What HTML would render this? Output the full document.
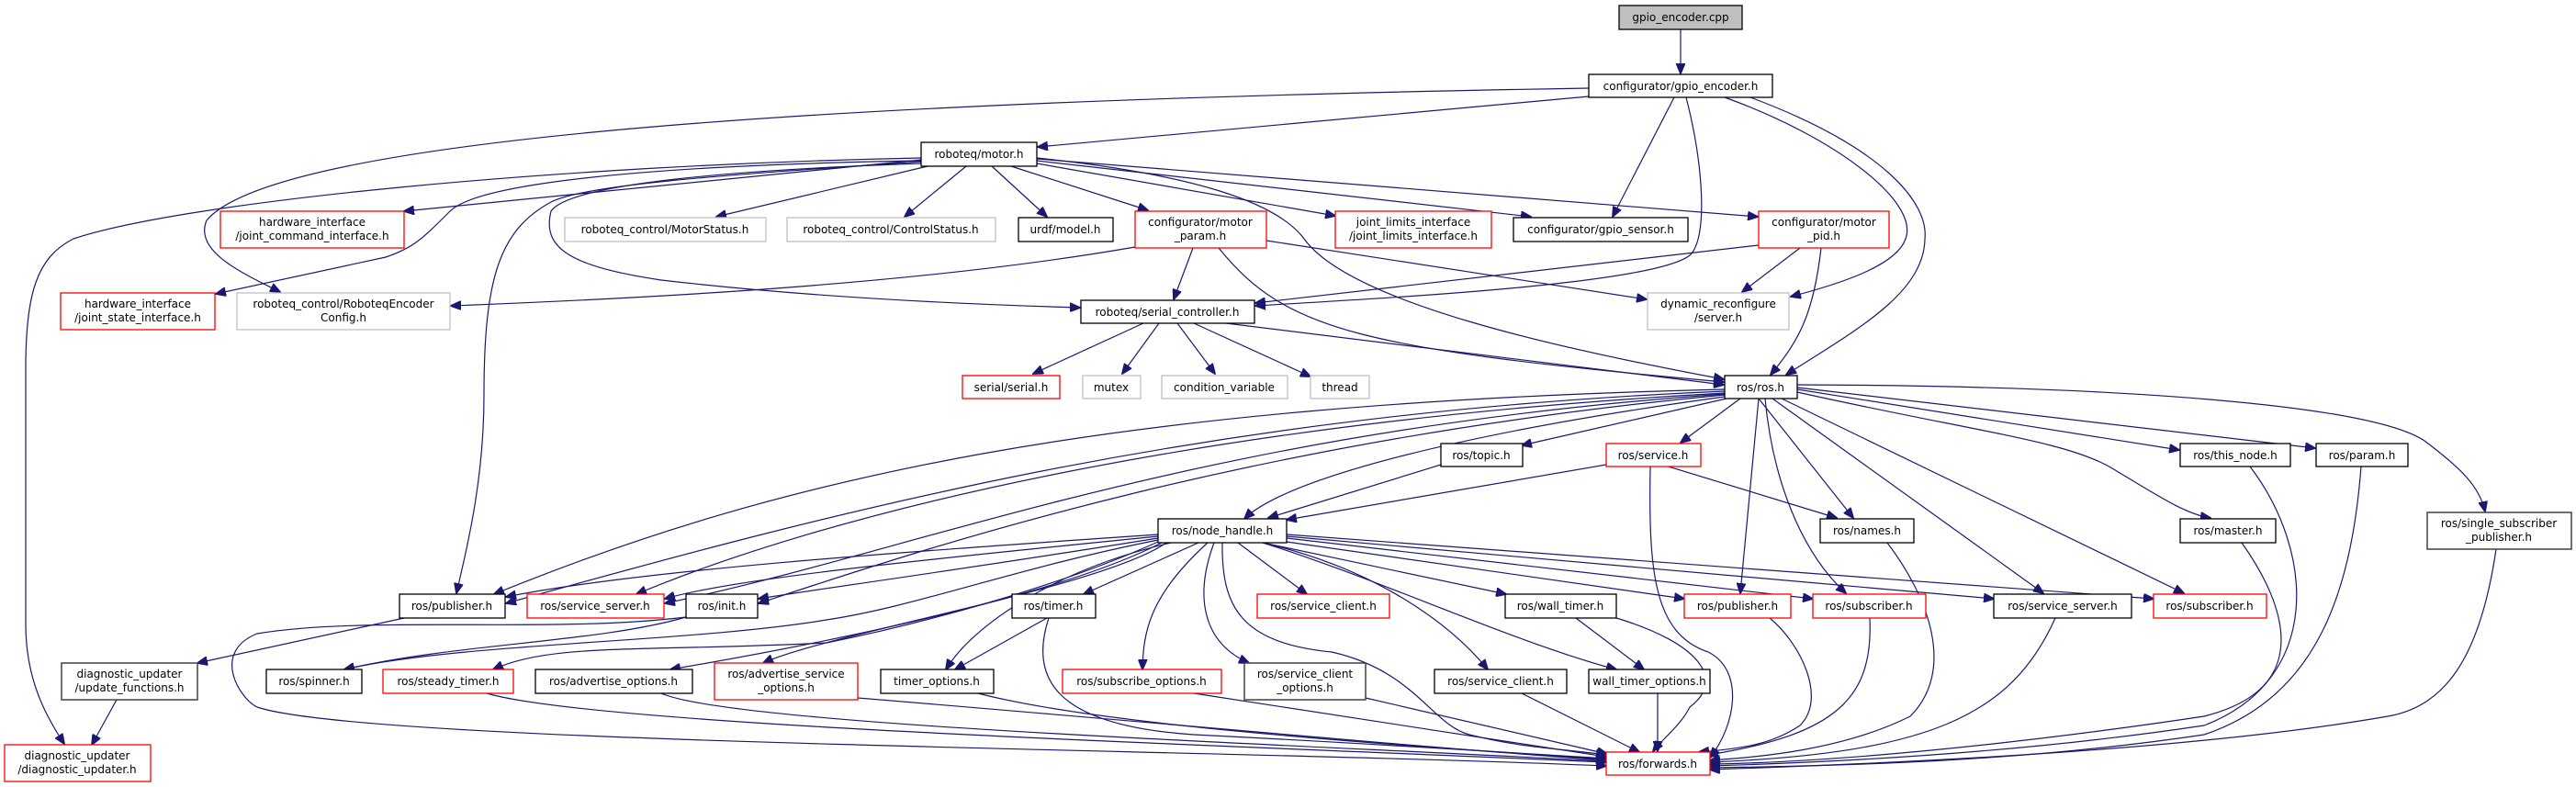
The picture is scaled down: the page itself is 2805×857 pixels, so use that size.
<!DOCTYPE html>
<html><head><meta charset="utf-8"><style>
html,body{margin:0;padding:0;background:#fff;}
svg{display:block;}
text{font-family:"DejaVu Sans","Liberation Sans",sans-serif;font-size:12px;fill:#000;text-anchor:middle;}
.b{fill:#fff;stroke:#000;stroke-width:1.3}
.g{fill:#fff;stroke:#bfbfbf;stroke-width:1.3}
.r{fill:#fff;stroke:#ff0000;stroke-width:1.3}
.d{fill:#fff;stroke:#404040;stroke-width:1.5}
.e path{fill:none;stroke:#191970;stroke-width:1.2;marker-end:url(#a)}
</style></head><body>
<svg width="2805" height="857" viewBox="0 0 2805 857" xmlns="http://www.w3.org/2000/svg">
<defs><marker id="a" markerUnits="userSpaceOnUse" markerWidth="12" markerHeight="10" refX="11" refY="5" orient="auto"><path d="M0,0 L12,5 L0,10 z" fill="#191970" stroke="#191970"/></marker></defs>
<g class="e">
<path d="M1830,32 L1830,80"/>
<path d="M1730,96 C 900,110 300,150 225,240 C 210,275 270,300 305,318"/>
<path d="M1730,105 L1130,160"/>
<path d="M1823,106 L1756,236"/>
<path d="M1878,106 C 2000,150 2090,220 2075,260 C 2065,290 2000,310 1950,323"/>
<path d="M1836,106 C 1855,180 1860,260 1840,278 C 1800,310 1500,325 1367,333"/>
<path d="M1906,106 C 2050,160 2100,220 2096,260 C 2095,320 2020,360 1945,408"/>
<path d="M1003,172 C 600,180 200,220 80,260 C 40,280 28,320 28,400 L 28,680 C 28,740 50,780 70,810"/>
<path d="M1003,176 C 800,190 640,200 600,220 C 545,250 527,300 527,430 C 527,520 510,590 497,646"/>
<path d="M1003,174 L440,230"/>
<path d="M1003,175 C 700,180 520,200 490,230 C 460,260 450,270 420,280 L 235,320"/>
<path d="M1003,178 C 800,185 620,200 600,230 C 590,270 620,290 720,305 C 850,320 1000,330 1176,335"/>
<path d="M1010,181 L780,236"/>
<path d="M1052,181 L985,236"/>
<path d="M1080,181 L1140,236"/>
<path d="M1101,181 L1250,229"/>
<path d="M1129,178 L1454,235"/>
<path d="M1129,175 L1667,236"/>
<path d="M1129,173 L1914,236"/>
<path d="M1129,172 C 1300,190 1390,220 1420,260 C 1470,330 1700,380 1877,413"/>
<path d="M1236,269 C 1000,310 700,325 491,333"/>
<path d="M1299,270 L1278,326"/>
<path d="M1379,262 L1793,326"/>
<path d="M1327,270 C 1400,360 1480,380 1877,416"/>
<path d="M1915,267 L1367,330"/>
<path d="M1960,270 L1897,318"/>
<path d="M1983,270 C 1975,340 1960,370 1928,408"/>
<path d="M1245,352 L1125,407"/>
<path d="M1262,352 L1222,407"/>
<path d="M1282,352 L1323,407"/>
<path d="M1300,352 L1427,410"/>
<path d="M1335,352 L1877,419"/>
<path d="M1878,424 C 1200,440 850,520 538,647"/>
<path d="M1878,426 C 1300,450 900,560 551,657"/>
<path d="M1878,428 C 1300,460 900,560 693,647"/>
<path d="M1878,429 C 1300,470 1000,600 724,657"/>
<path d="M1878,430 C 1350,480 1000,600 826,657"/>
<path d="M1878,432 C 1600,470 1400,520 1355,565"/>
<path d="M1880,434 L1657,485"/>
<path d="M1895,434 L1830,482"/>
<path d="M1957,424 L2373,490"/>
<path d="M1957,422 L2521,488"/>
<path d="M1957,419 C 2300,420 2580,440 2640,480 C 2680,510 2700,530 2706,557"/>
<path d="M1957,427 C 2150,470 2250,480 2300,510 C 2350,540 2380,560 2407,564"/>
<path d="M1915,434 L2018,564"/>
<path d="M1915,434 L1895,646"/>
<path d="M1922,434 C 1930,520 1960,600 2010,646"/>
<path d="M1930,434 L2225,646"/>
<path d="M1940,434 L2378,646"/>
<path d="M1810,506 L2000,564"/>
<path d="M1797,508 C 1795,620 1800,690 1860,710 C 1900,730 1890,790 1862,825"/>
<path d="M1569,506 L1381,564"/>
<path d="M1749,506 L1401,566"/>
<path d="M1261,582 C 1000,600 700,620 551,650"/>
<path d="M1261,584 C 1000,610 800,630 724,652"/>
<path d="M1261,586 C 1050,620 900,640 826,652"/>
<path d="M1261,588 C 1100,620 1000,660 900,675 C 750,700 500,700 375,729"/>
<path d="M1261,590 C 1150,640 1000,680 900,700 C 700,710 600,700 537,729"/>
<path d="M1265,591 C 1150,650 900,700 730,729"/>
<path d="M1270,591 C 1200,640 900,690 831,722"/>
<path d="M1275,591 C 1150,620 1060,680 1030,729"/>
<path d="M1305,591 L1180,647"/>
<path d="M1315,591 C 1250,650 1245,690 1244,729"/>
<path d="M1322,591 C 1300,650 1310,700 1360,722"/>
<path d="M1348,591 L1423,647"/>
<path d="M1331,591 C 1330,660 1350,700 1450,710 C 1540,730 1560,790 1600,800 C 1660,815 1700,815 1749,822"/>
<path d="M1375,591 L1640,647"/>
<path d="M1375,591 C 1500,620 1580,680 1620,729"/>
<path d="M1375,591 C 1500,630 1650,700 1760,729"/>
<path d="M1401,590 L1834,652"/>
<path d="M1401,586 L1974,652"/>
<path d="M1401,584 L2171,652"/>
<path d="M1401,582 L2345,652"/>
<path d="M747,672 C 600,690 400,670 280,690 C 230,710 260,760 280,770 C 400,810 1300,815 1749,834"/>
<path d="M747,672 C 650,700 500,700 375,729"/>
<path d="M440,673 L215,722"/>
<path d="M127,762 L100,811"/>
<path d="M530,755 C 650,790 1300,810 1749,830"/>
<path d="M720,755 C 800,790 1400,810 1749,829"/>
<path d="M934,760 C 1300,790 1500,810 1749,828"/>
<path d="M1065,755 C 1200,790 1500,810 1749,827"/>
<path d="M1140,673 L1040,729"/>
<path d="M1142,673 C 1120,740 1150,790 1300,800 C 1500,810 1650,820 1749,826"/>
<path d="M1300,755 L1749,824"/>
<path d="M1487,760 L1750,821"/>
<path d="M1657,755 L1785,819"/>
<path d="M1716,673 L1790,729"/>
<path d="M1760,673 C 1850,700 1880,740 1840,770 C 1830,790 1810,805 1800,818"/>
<path d="M1805,755 L1805,818"/>
<path d="M1927,673 C 1960,700 1990,760 1960,790 C 1930,810 1900,815 1850,819"/>
<path d="M2036,673 C 2040,760 2000,800 1860,822"/>
<path d="M2055,591 C 2100,650 2130,730 2080,780 C 2000,820 1900,825 1862,828"/>
<path d="M2238,673 C 2190,780 2100,820 1862,830"/>
<path d="M2441,591 C 2490,660 2520,750 2400,780 C 2200,810 2000,830 1862,832"/>
<path d="M2450,508 C 2520,600 2530,740 2400,790 C 2200,820 2000,830 1862,834"/>
<path d="M2571,508 C 2560,650 2520,760 2400,800 C 2200,830 2000,834 1862,836"/>
<path d="M2718,598 C 2700,720 2660,770 2600,780 C 2400,815 2100,830 1862,838"/>
</g>
<rect x="1763" y="6" width="134" height="26" fill="#bfbfbf" stroke="#000" stroke-width="1.3"/><text x="1830" y="23">gpio_encoder.cpp</text>
<rect class="b" x="1730" y="81" width="200" height="25"/><text x="1830" y="98">configurator/gpio_encoder.h</text>
<rect class="b" x="1003" y="155" width="126" height="26"/><text x="1066" y="172">roboteq/motor.h</text>
<rect class="r" x="240" y="230" width="200" height="40"/><text x="340" y="246">hardware_interface</text><text x="340" y="261">/joint_command_interface.h</text>
<rect class="r" x="66" y="319" width="168" height="40"/><text x="150" y="335">hardware_interface</text><text x="150" y="350">/joint_state_interface.h</text>
<rect class="g" x="258" y="319" width="232" height="40"/><text x="374" y="335">roboteq_control/RoboteqEncoder</text><text x="374" y="350">Config.h</text>
<rect class="g" x="615" y="237" width="219" height="26"/><text x="724" y="254">roboteq_control/MotorStatus.h</text>
<rect class="g" x="857" y="237" width="227" height="26"/><text x="970" y="254">roboteq_control/ControlStatus.h</text>
<rect class="b" x="1109" y="237" width="103" height="26"/><text x="1160" y="254">urdf/model.h</text>
<rect class="r" x="1236" y="230" width="143" height="40"/><text x="1307" y="246">configurator/motor</text><text x="1307" y="261">_param.h</text>
<rect class="r" x="1454" y="230" width="170" height="40"/><text x="1539" y="246">joint_limits_interface</text><text x="1539" y="261">/joint_limits_interface.h</text>
<rect class="b" x="1648" y="237" width="190" height="26"/><text x="1743" y="254">configurator/gpio_sensor.h</text>
<rect class="r" x="1915" y="230" width="142" height="40"/><text x="1986" y="246">configurator/motor</text><text x="1986" y="261">_pid.h</text>
<rect class="b" x="1177" y="327" width="189" height="25"/><text x="1271" y="344">roboteq/serial_controller.h</text>
<rect class="g" x="1794" y="319" width="154" height="40"/><text x="1871" y="335">dynamic_reconfigure</text><text x="1871" y="350">/server.h</text>
<rect class="r" x="1048" y="409" width="106" height="25"/><text x="1101" y="426">serial/serial.h</text>
<rect class="g" x="1179" y="409" width="63" height="25"/><text x="1210" y="426">mutex</text>
<rect class="g" x="1265" y="409" width="137" height="25"/><text x="1333" y="426">condition_variable</text>
<rect class="g" x="1427" y="409" width="64" height="25"/><text x="1459" y="426">thread</text>
<rect class="b" x="1878" y="409" width="79" height="25"/><text x="1917" y="426">ros/ros.h</text>
<rect class="b" x="1569" y="483" width="89" height="25"/><text x="1613" y="500">ros/topic.h</text>
<rect class="r" x="1749" y="483" width="103" height="25"/><text x="1800" y="500">ros/service.h</text>
<rect class="b" x="2374" y="483" width="120" height="25"/><text x="2434" y="500">ros/this_node.h</text>
<rect class="b" x="2522" y="483" width="100" height="25"/><text x="2572" y="500">ros/param.h</text>
<rect class="b" x="1261" y="565" width="140" height="26"/><text x="1331" y="582">ros/node_handle.h</text>
<rect class="b" x="1982" y="565" width="102" height="26"/><text x="2033" y="582">ros/names.h</text>
<rect class="b" x="2374" y="565" width="104" height="26"/><text x="2426" y="582">ros/master.h</text>
<rect class="d" x="2643" y="558" width="157" height="40"/><text x="2721" y="574">ros/single_subscriber</text><text x="2721" y="589">_publisher.h</text>
<rect class="b" x="435" y="647" width="115" height="26"/><text x="492" y="664">ros/publisher.h</text>
<rect class="r" x="574" y="647" width="149" height="26"/><text x="648" y="664">ros/service_server.h</text>
<rect class="b" x="747" y="647" width="78" height="26"/><text x="786" y="664">ros/init.h</text>
<rect class="b" x="1102" y="647" width="91" height="26"/><text x="1147" y="664">ros/timer.h</text>
<rect class="r" x="1369" y="647" width="144" height="26"/><text x="1441" y="664">ros/service_client.h</text>
<rect class="b" x="1639" y="647" width="121" height="26"/><text x="1699" y="664">ros/wall_timer.h</text>
<rect class="r" x="1834" y="647" width="116" height="26"/><text x="1892" y="664">ros/publisher.h</text>
<rect class="r" x="1974" y="647" width="123" height="26"/><text x="2035" y="664">ros/subscriber.h</text>
<rect class="b" x="2171" y="647" width="150" height="26"/><text x="2246" y="664">ros/service_server.h</text>
<rect class="r" x="2345" y="647" width="123" height="26"/><text x="2406" y="664">ros/subscriber.h</text>
<rect class="d" x="67" y="722" width="148" height="40"/><text x="141" y="738">diagnostic_updater</text><text x="141" y="753">/update_functions.h</text>
<rect class="b" x="290" y="729" width="104" height="26"/><text x="342" y="746">ros/spinner.h</text>
<rect class="r" x="417" y="729" width="142" height="26"/><text x="488" y="746">ros/steady_timer.h</text>
<rect class="b" x="583" y="729" width="171" height="26"/><text x="668" y="746">ros/advertise_options.h</text>
<rect class="r" x="778" y="722" width="156" height="40"/><text x="856" y="738">ros/advertise_service</text><text x="856" y="753">_options.h</text>
<rect class="b" x="959" y="729" width="123" height="26"/><text x="1020" y="746">timer_options.h</text>
<rect class="r" x="1157" y="729" width="173" height="26"/><text x="1243" y="746">ros/subscribe_options.h</text>
<rect class="d" x="1355" y="722" width="132" height="40"/><text x="1421" y="738">ros/service_client</text><text x="1421" y="753">_options.h</text>
<rect class="b" x="1562" y="729" width="144" height="26"/><text x="1634" y="746">ros/service_client.h</text>
<rect class="b" x="1730" y="729" width="132" height="26"/><text x="1796" y="746">wall_timer_options.h</text>
<rect class="r" x="5" y="811" width="159" height="40"/><text x="84" y="827">diagnostic_updater</text><text x="84" y="842">/diagnostic_updater.h</text>
<rect class="r" x="1749" y="819" width="113" height="25"/><text x="1805" y="836">ros/forwards.h</text>
</svg>
</body></html>
